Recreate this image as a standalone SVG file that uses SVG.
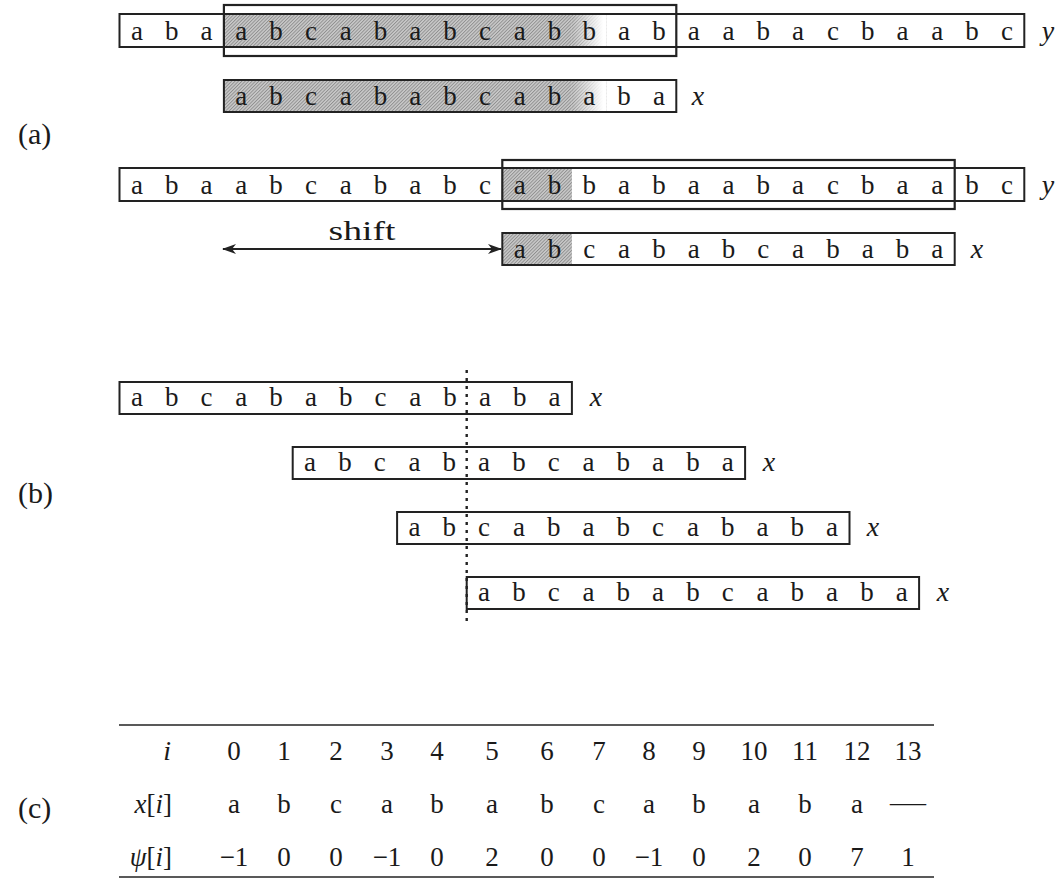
<svg xmlns="http://www.w3.org/2000/svg" width="1059" height="880" viewBox="0 0 1059 880">
<style>
.box{fill:none;stroke:#222;stroke-width:2}
.win{fill:none;stroke:#222;stroke-width:2.2}
.tt{font-family:"Liberation Serif","DejaVu Serif",serif;font-size:27px;fill:#1a1a1a;text-anchor:middle}
.it{font-family:"Liberation Serif","DejaVu Serif",serif;font-style:italic;font-size:28px;fill:#1a1a1a;text-anchor:middle}
.rm{font-family:"Liberation Serif","DejaVu Serif",serif;font-size:27px;fill:#1a1a1a;text-anchor:middle}
.lbl{font-family:"Liberation Serif","DejaVu Serif",serif;font-size:30px;fill:#1a1a1a}
.rule{stroke:#222;stroke-width:1.6}
.hatch{fill:url(#hatch)}
.fade{fill:url(#fade)}
</style>
<defs>
<pattern id="hatch" width="2.4" height="2.4" patternUnits="userSpaceOnUse" patternTransform="rotate(45)">
<rect width="2.4" height="2.4" fill="#c9c9c9"/>
<rect width="0.9" height="2.4" fill="#8e8e8e"/>
</pattern>
<linearGradient id="fade" x1="0" y1="0" x2="1" y2="0">
<stop offset="0" stop-color="#fff" stop-opacity="0"/>
<stop offset="0.9" stop-color="#fff" stop-opacity="1"/>
</linearGradient>
<marker id="ah" viewBox="0 0 14 10" refX="13" refY="5" markerWidth="14" markerHeight="10" markerUnits="userSpaceOnUse" orient="auto-start-reverse">
<path d="M0,0 L14,5 L0,10 L4,5 Z" fill="#222"/>
</marker>
</defs>
<rect width="1059" height="880" fill="#fff"/>

<text class="lbl" x="18" y="144">(a)</text>
<text class="lbl" x="18" y="503">(b)</text>
<text class="lbl" x="18" y="818">(c)</text>

<g id="a1-y">
<rect class="hatch" x="223.9" y="14" width="348" height="33"/>
<rect class="hatch" x="571.9" y="14" width="34.8" height="33"/>
<rect class="fade" x="571.9" y="14" width="34.8" height="33"/>
<rect class="box" x="119.5" y="14" width="904.8" height="33"/>
<text class="tt" y="39.5" x="136.9 171.7 206.5 241.3 276.1 310.9 345.7 380.5 415.3 450.1 484.9 519.7 554.5 589.3 624.1 658.9 693.7 728.5 763.3 798.1 832.9 867.7 902.5 937.3 972.1 1006.9">abaabcababcabbabaabacbaabc</text>
<text class="it" x="1048" y="39.5">y</text>
</g>
<g id="a1-window">
<rect class="win" x="223.9" y="5" width="452.4" height="51"/>
</g>
<g id="a1-x">
<rect class="hatch" x="223.9" y="80" width="348" height="32"/>
<rect class="hatch" x="571.9" y="80" width="34.8" height="32"/>
<rect class="fade" x="571.9" y="80" width="34.8" height="32"/>
<rect class="box" x="223.9" y="80" width="452.4" height="32"/>
<text class="tt" y="105" x="241.3 276.1 310.9 345.7 380.5 415.3 450.1 484.9 519.7 554.5 589.3 624.1 658.9">abcababcababa</text>
<text class="it" x="698" y="105">x</text>
</g>

<g id="a2-y">
<rect class="hatch" x="502.3" y="168" width="69.6" height="33"/>
<rect class="box" x="119.5" y="168" width="904.8" height="33"/>
<text class="tt" y="193.5" x="136.9 171.7 206.5 241.3 276.1 310.9 345.7 380.5 415.3 450.1 484.9 519.7 554.5 589.3 624.1 658.9 693.7 728.5 763.3 798.1 832.9 867.7 902.5 937.3 972.1 1006.9">abaabcababcabbabaabacbaabc</text>
<text class="it" x="1048" y="193.5">y</text>
</g>
<g id="a2-window">
<rect class="win" x="502.3" y="160" width="452.4" height="49"/>
</g>
<g id="a2-x">
<rect class="hatch" x="502.3" y="233" width="69.6" height="32"/>
<rect class="box" x="502.3" y="233" width="452.4" height="32"/>
<text class="tt" y="258" x="519.7 554.5 589.3 624.1 658.9 693.7 728.5 763.3 798.1 832.9 867.7 902.5 937.3">abcababcababa</text>
<text class="it" x="977" y="258">x</text>
</g>
<g id="shift-label">
<text class="rm" x="362" y="240" font-size="28" textLength="67" lengthAdjust="spacingAndGlyphs">shift</text>
</g>

<g id="b1">
<rect class="box" x="119.5" y="382" width="452.4" height="32"/>
<text class="tt" y="406" x="136.9 171.7 206.5 241.3 276.1 310.9 345.7 380.5 415.3 450.1 484.9 519.7 554.5">abcababcababa</text>
<text class="it" x="596" y="406">x</text>
</g>
<g id="b2">
<rect class="box" x="292.7" y="447" width="452.4" height="32"/>
<text class="tt" y="471" x="310.1 344.9 379.7 414.5 449.3 484.1 518.9 553.7 588.5 623.3 658.1 692.9 727.7">abcababcababa</text>
<text class="it" x="769" y="471">x</text>
</g>
<g id="b3">
<rect class="box" x="397.1" y="512" width="452.4" height="32"/>
<text class="tt" y="536" x="414.5 449.3 484.1 518.9 553.7 588.5 623.3 658.1 692.9 727.7 762.5 797.3 832.1">abcababcababa</text>
<text class="it" x="873" y="536">x</text>
</g>
<g id="b4">
<rect class="box" x="466.7" y="577" width="452.4" height="32"/>
<text class="tt" y="601" x="484.1 518.9 553.7 588.5 623.3 658.1 692.9 727.7 762.5 797.3 832.1 866.9 901.7">abcababcababa</text>
<text class="it" x="943" y="601">x</text>
</g>

<g id="connectors">
<line x1="223" y1="249" x2="501" y2="249" stroke="#222" stroke-width="1.8" marker-start="url(#ah)" marker-end="url(#ah)"/>
<line x1="466.7" y1="370" x2="466.7" y2="624" stroke="#222" stroke-width="2.4" stroke-dasharray="3 5"/>
</g>

<g id="table">
<line class="rule" x1="119" y1="725" x2="934" y2="725"/>
<line class="rule" x1="119" y1="877" x2="934" y2="877"/>
<text class="it" x="171" y="760" style="text-anchor:end">i</text>
<text class="rm" y="760" x="234 284 336 387 437 492 547 599 649 699">0123456789</text>
<text class="rm" y="760" x="754">10</text>
<text class="rm" y="760" x="805">11</text>
<text class="rm" y="760" x="857">12</text>
<text class="rm" y="760" x="908">13</text>
<text class="rm" x="172" y="813" style="text-anchor:end"><tspan font-style="italic">x</tspan>[<tspan font-style="italic">i</tspan>]</text>
<text class="tt" y="813" x="234 284 336 387 437 492 547 599 649 699 754 805 857">abcababcababa</text>
<text class="rm" x="908" y="811" textLength="36" lengthAdjust="spacingAndGlyphs">—</text>
<text class="rm" x="172" y="866" style="text-anchor:end"><tspan font-style="italic">ψ</tspan>[<tspan font-style="italic">i</tspan>]</text>
<text class="rm" y="866" x="234">−1</text>
<text class="rm" y="866" x="284">0</text>
<text class="rm" y="866" x="336">0</text>
<text class="rm" y="866" x="387">−1</text>
<text class="rm" y="866" x="437">0</text>
<text class="rm" y="866" x="492">2</text>
<text class="rm" y="866" x="547">0</text>
<text class="rm" y="866" x="599">0</text>
<text class="rm" y="866" x="649">−1</text>
<text class="rm" y="866" x="699">0</text>
<text class="rm" y="866" x="754">2</text>
<text class="rm" y="866" x="805">0</text>
<text class="rm" y="866" x="857">7</text>
<text class="rm" y="866" x="908">1</text>
</g>
</svg>
